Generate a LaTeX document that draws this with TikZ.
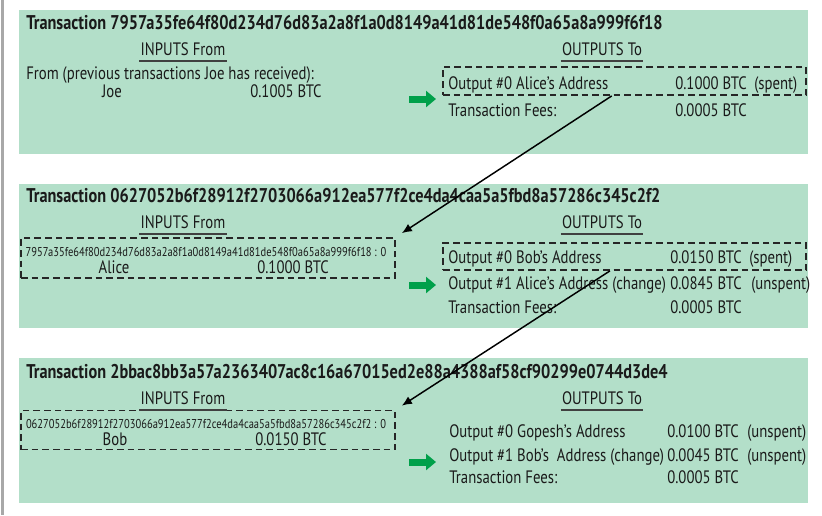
\documentclass[tikz,border=0pt]{standalone}
\usepackage{fontspec}
\setmainfont{PT Sans}[FakeStretch=0.82]
\usepackage{tikz}
\usetikzlibrary{
  arrows.meta,
  positioning,
  calc,
}
\definecolor{panelBg}{HTML}{B3DFC9}
\definecolor{panelText}{HTML}{1A1A1A}
\definecolor{moveGreen}{HTML}{00A04A}
\definecolor{frameGray}{HTML}{A8A8A8}
\tikzset{
  panel/.style={
    rectangle, draw=none, fill=panelBg, inner sep=0pt,
    minimum width=591.75pt, minimum height=108pt,
  },
  txTitle/.style={
    anchor=base west, inner sep=0pt, text=panelText,
    font=\fontsize{14.9}{17}\selectfont\bfseries,
  },
  colHead/.style={
    anchor=base, inner sep=0pt, text=panelText,
    font=\fontsize{13.5}{16}\selectfont,
  },
  rowText/.style={
    anchor=base west, inner sep=0pt, text=panelText,
    font=\fontsize{13.5}{16}\selectfont,
  },
  rowMid/.style={rowText, anchor=base},
  hashText/.style={
    anchor=base, inner sep=0pt, text=panelText,
    font=\fontsize{9.6}{11}\selectfont,
  },
  spentBox/.style={
    rectangle, draw=black!85, line width=1.35pt, inner sep=0pt,
    dash pattern=on 5pt off 3pt,
  },
  uline/.style={draw=black!75, line width=1.1pt},
  linkArrow/.style={
    -{Latex[length=7.5pt,width=6.5pt]}, line width=1.1pt, draw=black,
  },
  moveArrow/.style={
    -{Triangle[length=7.5pt,width=12pt]}, line width=5.25pt, draw=moveGreen,
  },
}

\begin{document}
\begin{tikzpicture}[x=0.75pt, y=-0.75pt]
\useasboundingbox (0,0) rectangle (822,515);
\draw[frameGray, line width=1.5pt] (2.5,0) -- (2.5,515);

% first transaction
\node[panel] (p1) at (413.5,82) {};
\node[txTitle] (t1title) at (26,29)
  {Transaction 7957a35fe64f80d234d76d83a2a8f1a0d8149a41d81de548f0a65a8a999f6f18};
\node[colHead] (t1inHdr) at (183,55) {INPUTS From};
\node[colHead] (t1outHdr) at (602,55) {OUTPUTS To};
\node[rowText] (t1from) at (26,79) {From (previous transactions Joe has received):};
\node[rowMid] (t1joe) at (112,97) {Joe};
\node[rowText] (t1joeAmt) at (250,97) {0.1005 BTC};
\node[spentBox, minimum width=272.25pt, minimum height=21pt] (t1out) at (624.5,81) {};
\node[rowText] (t1o0) at (448,89) {Output \#0 Alice’s Address};
\node[rowText] (t1o0Amt) at (675,89) {0.1000 BTC};
\node[rowText] (t1o0St) at (754,89) {(spent)};
\node[rowText] (t1fee) at (448,116) {Transaction Fees:};
\node[rowText] (t1feeAmt) at (675,116) {0.0005 BTC};
\coordinate (g1a) at (409,99);
\coordinate (g1b) at (436,99);

% second transaction
\node[panel] (p2) at (413.5,256) {};
\node[txTitle] (t2title) at (26,202)
  {Transaction 0627052b6f28912f2703066a912ea577f2ce4da4caa5a5fbd8a57286c345c2f2};
\node[colHead] (t2inHdr) at (183,228) {INPUTS From};
\node[colHead] (t2outHdr) at (602,228) {OUTPUTS To};
\node[spentBox, minimum width=280.5pt, minimum height=30pt] (t2in) at (208,258) {};
\node[hashText] (t2hash) at (206,256)
  {7957a35fe64f80d234d76d83a2a8f1a0d8149a41d81de548f0a65a8a999f6f18 : 0};
\node[rowMid] (t2alice) at (114,273) {Alice};
\node[rowText] (t2aliceAmt) at (257,273) {0.1000 BTC};
\node[spentBox, minimum width=272.25pt, minimum height=20.25pt] (t2out) at (624.5,256.5) {};
\node[rowText] (t2o0) at (448,263) {Output \#0 Bob’s Address};
\node[rowText] (t2o0Amt) at (670,263) {0.0150 BTC};
\node[rowText] (t2o0St) at (749,263) {(spent)};
\node[rowText] (t2o1) at (448,289) {Output \#1 Alice’s Address (change)};
\node[rowText] (t2o1Amt) at (670,289) {0.0845 BTC};
\node[rowText] (t2o1St) at (751,289) {(unspent)};
\node[rowText] (t2fee) at (448,313) {Transaction Fees:};
\node[rowText] (t2feeAmt) at (670,313) {0.0005 BTC};
\coordinate (g2a) at (409,285);
\coordinate (g2b) at (436,285);

% third transaction
\node[panel, minimum height=108.75pt] (p3) at (413.5,430.5) {};
\node[txTitle] (t3title) at (26,378)
  {Transaction 2bbac8bb3a57a2363407ac8c16a67015ed2e88a4388af58cf90299e0744d3de4};
\node[colHead] (t3inHdr) at (183,404) {INPUTS From};
\node[colHead] (t3outHdr) at (602,404) {OUTPUTS To};
\node[spentBox, minimum width=280.5pt, minimum height=29.25pt] (t3in) at (208,430) {};
\node[hashText] (t3hash) at (206,428)
  {0627052b6f28912f2703066a912ea577f2ce4da4caa5a5fbd8a57286c345c2f2 : 0};
\node[rowMid] (t3bob) at (115,445) {Bob};
\node[rowText] (t3bobAmt) at (255,445) {0.0150 BTC};
\node[rowText] (t3o0) at (449,437) {Output \#0 Gopesh’s Address};
\node[rowText] (t3o0Amt) at (667,437) {0.0100 BTC};
\node[rowText] (t3o0St) at (747,437) {(unspent)};
\node[rowText] (t3o1) at (449,461) {Output \#1 Bob’s~ Address (change)};
\node[rowText] (t3o1Amt) at (667,461) {0.0045 BTC};
\node[rowText] (t3o1St) at (747,461) {(unspent)};
\node[rowText] (t3fee) at (449,483) {Transaction Fees:};
\node[rowText] (t3feeAmt) at (667,483) {0.0005 BTC};
\coordinate (g3a) at (409,462);
\coordinate (g3b) at (436,462);

\foreach \h in {t1inHdr,t1outHdr,t2inHdr,t2outHdr,t3inHdr,t3outHdr}
  \draw[uline] ([shift={(-1,6)}]\h.base west) -- ([shift={(1,6)}]\h.base east);

\draw[moveArrow] (g1a) -- (g1b);
\draw[moveArrow] (g2a) -- (g2b);
\draw[moveArrow] (g3a) -- (g3b);

\draw[linkArrow] ($(t1out.south west)!0.465!(t1out.south east)$)
  -- ([shift={(6,-4)}]t2in.north east);
\draw[linkArrow] ($(t2out.south west)!0.46!(t2out.south east)$)
  -- ([shift={(6,-4)}]t3in.north east);

\end{tikzpicture}
\end{document}
